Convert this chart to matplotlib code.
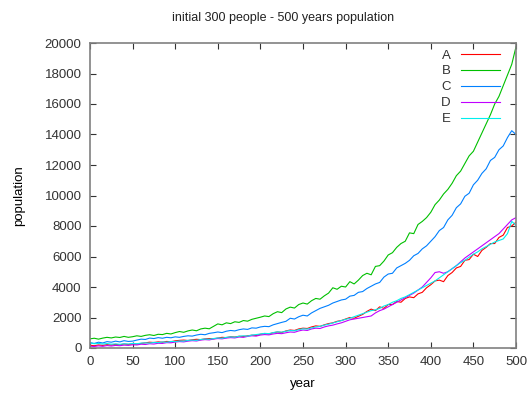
import numpy as np
import matplotlib
matplotlib.use("Agg")
import matplotlib.pyplot as plt

plt.rcParams['font.family'] = ['Liberation Sans', 'DejaVu Sans']

years = list(range(0, 501, 5))

pop_a = [180, 150, 200, 170, 220, 190, 240, 210, 260, 230, 270, 250, 300, 340, 380, 360, 400, 380, 430, 410,
         470, 500, 520, 490, 540, 570, 550, 600, 620, 600, 650, 700, 680, 740, 720, 770, 750, 800, 840, 820,
         900, 950, 920, 1000, 1050, 1020, 1120, 1180, 1150, 1250, 1300, 1280, 1380, 1450, 1420, 1520, 1600, 1650, 1750, 1800,
         1900, 2000, 1950, 2080, 2200, 2400, 2550, 2450, 2700, 2600, 2850, 2850, 3050, 3000, 3250, 3350, 3300, 3550, 3650, 3950,
         4150, 4400, 4450, 4350, 4750, 4950, 5250, 5350, 5750, 5800, 6150, 6000, 6400, 6600, 6850, 6850, 7250, 7400, 7900, 8000,
         8250]

pop_b = [600, 640, 580, 650, 700, 660, 720, 690, 760, 700, 740, 800, 760, 830, 870, 820, 900, 880, 960, 920,
         1010, 1080, 1030, 1120, 1180, 1130, 1250, 1300, 1260, 1420, 1580, 1520, 1650, 1600, 1720, 1680, 1800, 1760, 1880, 1950,
         2020, 2100, 2060, 2250, 2380, 2320, 2560, 2680, 2620, 2850, 2950, 2880, 3100, 3250, 3200, 3420, 3600, 3950, 3850, 4050,
         4000, 4350, 4200, 4450, 4750, 4900, 4800, 5350, 5400, 5700, 6100, 6250, 6600, 6850, 7000, 7550, 7500, 8100, 8300, 8550,
         8900, 9400, 9700, 10100, 10400, 10800, 11300, 11600, 12100, 12600, 12900, 13500, 14100, 14700, 15300, 16000, 16500, 17200, 17900, 18600,
         19750]

pop_c = [350, 300, 380, 330, 420, 380, 450, 400, 480, 430, 450, 520, 580, 560, 650, 620, 680, 640, 700, 670,
         730, 700, 760, 800, 780, 850, 900, 870, 960, 1000, 1050, 1010, 1100, 1150, 1120, 1200, 1250, 1220, 1320, 1300,
         1380, 1420, 1400, 1520, 1600, 1680, 1750, 1950, 1900, 2050, 2150, 2100, 2300, 2450, 2600, 2700, 2800, 2950, 3050, 3150,
         3200, 3400, 3450, 3650, 3700, 3900, 4050, 4200, 4300, 4650, 4850, 4900, 5250, 5400, 5550, 5750, 6050, 6200, 6500, 6700,
         7000, 7300, 7700, 7900, 8400, 8700, 9200, 9450, 9950, 10150, 10700, 11000, 11450, 11750, 12300, 12500, 13000, 13250, 13800, 14250,
         14000]

pop_d = [120, 100, 140, 110, 160, 130, 170, 150, 190, 170, 210, 200, 250, 230, 280, 260, 310, 300, 350, 340,
         390, 420, 400, 450, 480, 460, 520, 550, 530, 590, 620, 600, 650, 680, 660, 720, 700, 760, 800, 780,
         850, 880, 860, 920, 960, 940, 1000, 1050, 1030, 1120, 1180, 1150, 1250, 1300, 1280, 1380, 1450, 1500, 1580, 1650,
         1750, 1850, 1900, 1950, 2000, 2050, 2100, 2300, 2450, 2550, 2700, 2850, 3000, 3150, 3300, 3450, 3600, 3800, 4000, 4300,
         4600, 4950, 5000, 4900, 5000, 5200, 5400, 5650, 5900, 6100, 6300, 6500, 6700, 6900, 7100, 7300, 7500, 7800, 8100, 8400,
         8550]

pop_e = [330, 280, 300, 260, 290, 250, 270, 240, 280, 260, 300, 280, 320, 340, 320, 370, 350, 400, 380, 430,
         420, 460, 450, 500, 520, 500, 560, 590, 570, 620, 660, 640, 700, 730, 710, 770, 800, 780, 850, 880,
         920, 960, 940, 1010, 1060, 1040, 1100, 1150, 1130, 1200, 1260, 1240, 1320, 1380, 1420, 1500, 1560, 1640, 1720, 1800,
         1880, 1950, 2050, 2150, 2250, 2350, 2450, 2500, 2600, 2750, 2850, 3000, 3100, 3250, 3350, 3500, 3650, 3800, 3950, 4100,
         4250, 4400, 4600, 4800, 5000, 5200, 5400, 5600, 5750, 5950, 6150, 6300, 6500, 6650, 6800, 6950, 7050, 7150, 7500, 8300,
         8050]

series = [("A", pop_a, "#ff0000"),
          ("B", pop_b, "#00c000"),
          ("C", pop_c, "#0080ff"),
          ("D", pop_d, "#c000ff"),
          ("E", pop_e, "#00eeee")]

fig = plt.figure(figsize=(5.27, 3.93), dpi=100)
ax = fig.add_axes([90 / 527, 1 - 348 / 393, 426 / 527, 305 / 393])

for name, vals, col in series:
    ax.plot(years, vals, color=col, lw=0.8, label=name)

ax.set_xlim(0, 500)
ax.set_ylim(0, 20000)
ax.set_xticks(np.arange(0, 501, 50))
ax.set_yticks(np.arange(0, 20001, 2000))
ax.tick_params(direction='in', length=4, width=0.8, top=True, right=True,
               labelsize=9.5, colors='#333333', pad=6)
for s in ax.spines.values():
    s.set_color('#808080')
    s.set_linewidth(1.2)

ax.set_xlabel("year", fontsize=9.5, labelpad=7)
ax.set_ylabel("population", fontsize=9.5, labelpad=14)
fig.text(0.5 + 40 / 527 / 2, 1 - 18 / 393, "initial 300 people - 500 years population",
         ha='center', va='center', fontsize=9, color='#222222')

leg = ax.legend(loc='upper right', bbox_to_anchor=(505 / 527, 1 - 44 / 393),
                bbox_transform=fig.transFigure, frameon=False, markerfirst=False,
                fontsize=9.5, handlelength=2.9, handletextpad=0.8, labelspacing=0.28,
                borderaxespad=0)
for t in leg.get_texts():
    t.set_color('#333333')

fig.savefig("out.png", dpi=100)
